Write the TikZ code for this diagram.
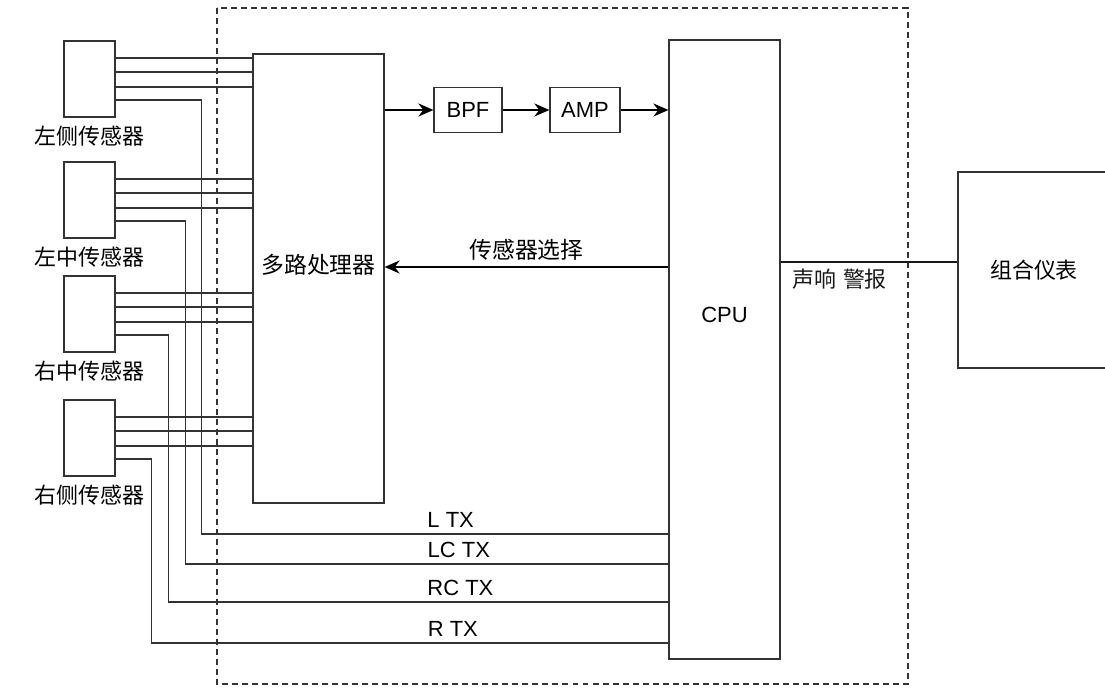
\documentclass[tikz,border=0pt]{standalone}
\usepackage{fontspec}
\setmainfont{Liberation Sans}
\newfontfamily\cjk{Noto Sans CJK SC}
\usetikzlibrary{arrows.meta, positioning, calc}

\begin{document}
\begin{tikzpicture}[x=0.02cm, y=-0.02cm, font=\fontsize{12.5}{14}\selectfont]
\tikzstyle{box} = [rectangle, draw=black!80, line width=0.7pt, inner sep=0pt]
\tikzstyle{sensor} = [box, minimum width=1.02cm, minimum height=1.52cm]
\tikzstyle{wire} = [draw=black!80, line width=0.7pt]
\tikzstyle{arrow} = [line width=1.2pt, -{Stealth[length=3mm, width=2.6mm]}]
\tikzstyle{big} = [font=\cjk\fontsize{13}{15}\selectfont]

\useasboundingbox (0,0) rectangle (1105,688);

% sensors on the left
\node (sl)  [sensor, label={[label distance=1pt]below:{\cjk 左侧传感器}}] at (89.5,79) {};
\node (slc) [sensor, label={[label distance=1pt]below:{\cjk 左中传感器}}] at (89.5,200) {};
\node (src) [sensor, label={[label distance=1pt]below:{\cjk 右中传感器}}] at (89.5,314) {};
\node (sr)  [sensor, label={[label distance=1pt]below:{\cjk 右侧传感器}}] at (89.5,438) {};

% ECU
\draw[black!80, line width=0.6pt, dash pattern=on 3.4pt off 2.3pt] (217,8) rectangle (908,684);

\node (mux) [box, minimum width=2.62cm, minimum height=8.98cm,
    label={[big, yshift=0.27cm]center:多路处理器}] at (318.5,278.5) {};
\node (bpf) [box, minimum width=1.36cm, minimum height=0.9cm] at (468,110) {BPF};
\node (amp) [box, minimum width=1.4cm, minimum height=0.9cm] at (585,110) {AMP};
\node (cpu) [box, minimum width=2.22cm, minimum height=12.38cm,
    label={[yshift=0.69cm]center:CPU}] at (724.5,349.5) {};

\node (inst) [box, minimum width=3.04cm, minimum height=3.92cm] at (1034,270) {\cjk 组合仪表};

% sensor wires
\foreach \s/\dtx/\run/\p/\txt in {sl/184.5/86/0.735/L TX, slc/214.5/70/0.744/LC TX,
    src/252.5/53/0.7525/RC TX, sr/293.5/36/0.761/R TX} {
  \foreach \dy in {-21,-7,8}
    \draw[wire] ($(\s.east)+(0,\dy)$) coordinate (p) -- (p -| mux.west);
  \draw[wire] ($(\s.east)+(0,21)$) -- ++(\run,0)
    |- node[pos=\p, anchor=south west] {\txt} ($(cpu.west)+(0,\dtx)$);
}

\draw[arrow] (mux.east |- bpf.west) -- (bpf.west);
\draw[arrow] (bpf) -- (amp);
\draw[arrow] (amp.east) -- (amp.east -| cpu.west);

\draw[arrow] ($(cpu.west)+(0,-82.5)$) coordinate (r)
    -- node[above, big] {传感器选择} (r -| mux.east);

\draw[black!90, line width=1.2pt] ($(inst.west)+(0,-8)$) coordinate (q) -- (q -| cpu.east)
    node[anchor=north west, xshift=0.1cm] {\cjk 声响\hspace{0.3em}警报};

\end{tikzpicture}
\end{document}
